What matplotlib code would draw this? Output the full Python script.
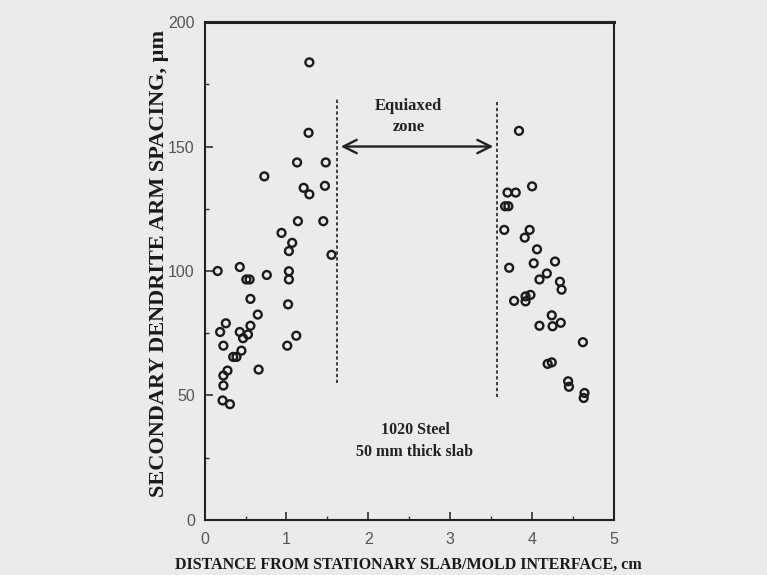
import matplotlib.pyplot as plt

# chill zone / columnar side (near stationary mold)
x_left = [0.16, 0.19, 0.26, 0.23, 0.28, 0.23, 0.23, 0.22, 0.31, 0.35, 0.39,
          0.43, 0.47, 0.45, 0.43, 0.51, 0.55, 0.56, 0.56, 0.53, 0.65, 0.66,
          0.76, 0.73, 0.94, 1.07, 1.03, 1.03, 1.03, 1.02, 1.01, 1.12, 1.13,
          1.14, 1.21, 1.28, 1.28, 1.27, 1.48, 1.47, 1.45, 1.55]
y_left = [100, 75.5, 79, 70, 60, 58, 54, 48, 46.5, 65.5, 65.5,
          75.5, 73, 68, 101.6, 96.6, 96.6, 88.8, 78, 74.5, 82.5, 60.4,
          98.4, 138, 115.3, 111.3, 108, 99.9, 96.6, 86.6, 70, 74, 143.6,
          120, 133.4, 130.8, 183.8, 155.5, 143.6, 134.2, 120, 106.5]

# opposite side of the slab
x_right = [3.84, 3.70, 3.80, 4.00, 3.67, 3.71, 3.66, 3.97, 3.91, 3.72, 4.06,
           4.02, 4.28, 4.18, 4.09, 4.34, 4.36, 3.78, 3.92, 3.92, 3.98, 4.09,
           4.24, 4.25, 4.35, 4.19, 4.24, 4.62, 4.44, 4.45, 4.64, 4.63]
y_right = [156.3, 131.5, 131.5, 134, 126, 126, 116.5, 116.5, 113.4, 101.3, 108.7,
           103.1, 103.8, 99, 96.6, 95.7, 92.5, 88, 89.8, 87.8, 90.4, 78,
           82.2, 77.8, 79.2, 62.7, 63.3, 71.4, 55.7, 53.5, 51, 49]

# equiaxed zone boundaries
zone_x = [1.62, 3.57]
zone_ybottom = [55, 49.3]
zone_ytop = [169, 168.8]

bg = '#ebebeb'
serif = ['Liberation Serif', 'DejaVu Serif']

fig = plt.figure(figsize=(7.67, 5.75), dpi=100, facecolor=bg)
ax = fig.add_axes([0.2667, 0.0957, 0.5338, 0.866])
ax.set_facecolor(bg)

ax.scatter(x_left + x_right, y_left + y_right, s=32, facecolors='none',
           edgecolors='#1a1a1a', linewidths=1.7, zorder=3)

for xv, y0, y1 in zip(zone_x, zone_ybottom, zone_ytop):
    ax.plot([xv, xv], [y0, y1], color='#222222', linestyle=(0, (2, 1.5)), linewidth=1.2)

ax.annotate('', xy=(zone_x[0] + 0.01, 150), xytext=(zone_x[1] - 0.01, 150),
            arrowprops=dict(arrowstyle='<->', color='#222222', lw=1.7,
                            mutation_scale=24))

ax.text(2.49, 162.2, 'Equiaxed\nzone', ha='center', va='center', fontsize=12,
        fontweight='bold', family=serif, linespacing=1.4, color='#222222')
ax.text(2.57, 31.7, '1020 Steel\n50 mm thick slab', ha='center', va='center',
        fontsize=11.5, fontweight='bold', family=serif, linespacing=1.45,
        color='#222222')

ax.set_xlim(0, 5)
ax.set_ylim(0, 200)
ax.set_xticks([0, 1, 2, 3, 4, 5])
ax.set_xticks([0.5, 1.5, 2.5, 3.5, 4.5], minor=True)
ax.set_yticks([0, 50, 100, 150, 200])
ax.set_yticks([25, 75, 125, 175], minor=True)
ax.tick_params(which='both', direction='in', color='#333333')
ax.tick_params(which='major', length=6, width=1.2, labelsize=11.5,
               labelcolor='#555555', pad=7)
ax.tick_params(axis='x', which='major', pad=9)
ax.tick_params(which='minor', length=3, width=1)
for lab in ax.get_xticklabels() + ax.get_yticklabels():
    lab.set_family(['Liberation Sans', 'DejaVu Sans'])

for side, sp in ax.spines.items():
    sp.set_color('#222222')
    sp.set_linewidth(1.5)
ax.spines['top'].set_linewidth(2.2)

ax.set_xlabel('DISTANCE FROM STATIONARY SLAB/MOLD INTERFACE, cm', fontsize=11.5,
              fontweight='bold', family=serif, color='#1a1a1a')
ax.set_ylabel('SECONDARY DENDRITE ARM SPACING, µm', fontsize=16,
              fontweight='bold', family=serif, color='#1a1a1a')
ax.xaxis.set_label_coords(0.497, -0.075)
ax.yaxis.set_label_coords(-0.088, 0.516)

fig.savefig('out.png', dpi=100, facecolor=bg)
